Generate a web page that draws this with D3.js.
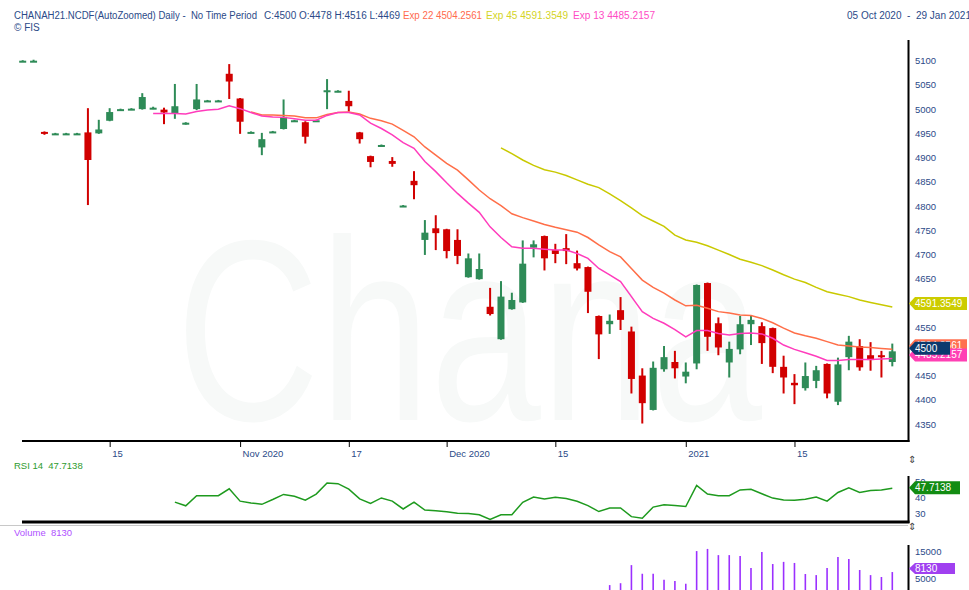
<!DOCTYPE html>
<html lang="en">
<head>
  <meta charset="UTF-8">
  <title>CHANAH21 Daily</title>
  <script src="https://d3js.org/d3.v7.min.js"></script>
</head>

<body>

  <div id="chart"></div>

  <style>
    body { margin: 0; background: #fff; }
    text { font-family: "Liberation Sans", Arial, sans-serif; }
  </style>

  <script type="text/javascript">

  var w = 969;
  var h = 590;

  // trading days 05 Oct 2020 - 29 Jan 2021
  var dates = [
    "2020-10-05","2020-10-06","2020-10-07","2020-10-08","2020-10-09","2020-10-12","2020-10-13","2020-10-14","2020-10-15","2020-10-16",
    "2020-10-19","2020-10-20","2020-10-21","2020-10-22","2020-10-23","2020-10-26","2020-10-27","2020-10-28","2020-10-29","2020-10-30",
    "2020-11-02","2020-11-03","2020-11-04","2020-11-05","2020-11-06","2020-11-09","2020-11-10","2020-11-11","2020-11-12","2020-11-13",
    "2020-11-17","2020-11-18","2020-11-19","2020-11-20","2020-11-23","2020-11-24","2020-11-25","2020-11-26","2020-11-27",
    "2020-12-01","2020-12-02","2020-12-03","2020-12-04","2020-12-07","2020-12-08","2020-12-09","2020-12-10","2020-12-11","2020-12-14",
    "2020-12-15","2020-12-16","2020-12-17","2020-12-18","2020-12-21","2020-12-22","2020-12-23","2020-12-24","2020-12-28","2020-12-29",
    "2020-12-30","2020-12-31",
    "2021-01-01","2021-01-04","2021-01-05","2021-01-06","2021-01-07","2021-01-08","2021-01-11","2021-01-12","2021-01-13","2021-01-14",
    "2021-01-15","2021-01-18","2021-01-19","2021-01-20","2021-01-21","2021-01-22","2021-01-25","2021-01-27","2021-01-28","2021-01-29"
  ];

  var open = [5099,5099,4953,4949,4949,4949,4952,4950,4976,4998,
              4999,5000,5001,4999,4991,4970,5000,5016,5016,5073,
              5022,4951,4921,4952,4959,4975,4973,4975,5037,5036,
              5017,4952,4903,4924,4893,4799,4852,4730,4754,4752,
              4730,4653,4649,4592,4525,4587,4601,4714,4738,4709,
              4713,4682,4674,4573,4556,4585,4541,4450,4379,4463,
              4478,4448,4475,4641,4558,4477,4504,4556,4552,4548,
              4468,4435,4424,4439,4474,4396,4488,4511,4492,4492,4478];
  var high = [5101,5102,4954,4951,4951,4951,5002,4978,5002,5001,
              5002,5033,5005,5003,5052,4973,5052,5019,5019,5093,
              5023,4954,4951,4955,5020,4978,4975,4978,5062,5039,
              5038,4953,4904,4927,4901,4802,4872,4771,4781,4753,
              4752,4702,4702,4631,4645,4621,4729,4729,4739,4722,
              4742,4708,4675,4574,4576,4612,4551,4465,4479,4511,
              4501,4477,4638,4642,4570,4520,4573,4573,4560,4549,
              4491,4453,4477,4470,4475,4487,4532,4525,4519,4501,4516];
  var low  = [5099,5098,4947,4948,4948,4948,4802,4949,4975,4997,
              4998,4999,5000,4969,4980,4968,4998,5015,5015,5021,
              4949,4950,4905,4951,4958,4974,4929,4974,5000,5035,
              4995,4929,4880,4923,4881,4798,4814,4699,4709,4692,
              4680,4652,4648,4574,4524,4586,4600,4694,4667,4682,
              4680,4667,4579,4484,4536,4544,4413,4351,4378,4458,
              4444,4434,4463,4501,4492,4446,4494,4513,4474,4455,
              4413,4391,4419,4424,4403,4389,4461,4460,4460,4446,4469];
  var close = [5100,5100,4950,4950,4950,4950,4895,4958,4994,5000,
               5001,5025,5003,4993,5006,4972,5020,5018,5018,5057,
               4974,4953,4938,4954,4984,4977,4943,4977,5039,5038,
               5006,4938,4891,4926,4887,4801,4843,4745,4744,4707,
               4697,4692,4670,4577,4613,4606,4681,4721,4692,4701,
               4707,4671,4623,4535,4563,4565,4443,4393,4466,4488,
               4465,4458,4637,4530,4508,4505,4556,4565,4517,4468,
               4446,4430,4449,4461,4413,4473,4520,4467,4482,4488,4500];

  // moving averages, first value at the given bar
  var ema13Start = 12;
  var ema13 = [4991,4991,4991,4990,4995,4998,5000,5007,5001,4993,
               4986,4984,4983,4980,4977,4977,4987,4993,4993,4988,
               4971,4960,4947,4931,4919,4892,4871,4848,4826,4806,
               4787,4757,4735,4716,4713,4713,4711,4709,4709,4702,
               4692,4671,4658,4644,4613,4582,4568,4558,4545,4530,
               4543,4543,4537,4534,4537,4538,4536,4527,4513,4504,
               4497,4490,4481,4481,4483,4483,4483,4484,4485.22];
  var ema22Start = 21;
  var ema22 = [4994,4988,4988,4987,4986,4982,4982,4989,4993,4994,
               4990,4981,4976,4969,4956,4943,4922,4905,4888,4874,
               4854,4833,4815,4801,4784,4776,4769,4762,4756,4751,
               4746,4735,4720,4706,4695,4671,4647,4632,4620,4606,
               4594,4595,4589,4582,4579,4575,4574,4568,4559,4548,
               4538,4532,4527,4520,4513,4511,4509,4508,4506,4504.26];
  var ema45Start = 44;
  var ema45 = [4920,4908,4895,4884,4875,4870,4863,4854,4845,4838,
               4825,4811,4796,4780,4769,4758,4740,4730,4725,4718,
               4709,4700,4690,4684,4677,4668,4658,4649,4642,4632,
               4623,4618,4613,4606,4601,4596,4591.35];

  var rsiStart = 14;
  var rsi = [39.0,36.7,43.0,43.0,43.0,47.3,39.6,38.5,37.6,40.6,
             43.8,42.6,40.2,44.0,50.9,50.5,47.1,41.0,38.2,41.6,
             39.6,34.7,39.0,34.0,33.6,33.0,32.0,31.9,31.1,28.1,
             31.1,31.1,38.9,42.2,41.0,42.0,41.2,39.5,36.8,33.1,
             35.3,35.3,29.9,28.9,35.9,37.4,36.8,36.2,49.5,44.0,
             43.0,43.0,46.6,47.0,44.2,41.5,40.3,40.2,40.8,42.2,
             39.6,45.0,47.9,45.0,46.2,46.6,47.71];

  var volume = [0,0,0,0,0,0,100,0,0,0,
                0,0,0,100,0,0,0,0,0,0,
                0,0,100,0,0,0,0,0,0,0,
                0,0,0,0,0,0,0,0,0,300,
                0,0,0,400,0,300,250,250,300,0,
                0,400,500,900,3300,4000,10700,7500,7500,5300,
                4800,3800,15900,16700,14400,14400,14100,9600,15600,11100,
                11900,11500,7400,7000,9600,13700,13000,8900,7000,6300,
                8130];

  var dateTicks = ["2020-10-15","2020-11-02","2020-11-17","2020-12-01","2020-12-15","2021-01-01","2021-01-15"];
  var dateLabels = ["15","Nov 2020","17","Dec 2020","15","2021","15"];
  var priceTicks = [4350,4400,4450,4500,4550,4600,4650,4700,4750,4800,4850,4900,4950,5000,5050,5100];
  var rsiTicks = [30, 40, 50];
  var volTicks = [0, 5000, 10000, 15000];

  var navy = "#2b4a88";
  var up = "#2e8b57", down = "#d10000";

  var svg = d3.select('#chart')
    .append('svg')
    .attr('width', w)
    .attr('height', h);

  var x = d3.scalePoint().domain(dates).range([22.7, 892.3]);
  var yP = d3.scaleLinear().domain([4350, 5100]).range([424, 60.7]);
  var yR = d3.scaleLinear().domain([30, 50]).range([516.5, 484.5]);
  var yV = d3.scaleLinear().domain([0, 15000]).range([594, 553.5]);

  // watermark
  svg.append("text")
    .attr("x", 176).attr("y", 420)
    .attr("font-size", 258)
    .attr("textLength", 586).attr("lengthAdjust", "spacingAndGlyphs")
    .attr("fill", "#f7f9f8")
    .text("Chana");

  // header
  var head = [
    {x: 14, len: 243, c: navy, t: "CHANAH21.NCDF(AutoZoomed) Daily -  No Time Period"},
    {x: 264, len: 136, c: navy, t: "C:4500 O:4478 H:4516 L:4469"},
    {x: 403, len: 79, c: "#ff6a4d", t: "Exp 22 4504.2561"},
    {x: 486, len: 82, c: "#d4d426", t: "Exp 45 4591.3549"},
    {x: 573, len: 82, c: "#ff4cc4", t: "Exp 13 4485.2157"}
  ];
  svg.selectAll("text.head").data(head).enter().append("text")
    .attr("class", "head")
    .attr("x", d => d.x).attr("y", 18.5)
    .attr("font-size", 10)
    .attr("textLength", d => d.len).attr("lengthAdjust", "spacingAndGlyphs")
    .attr("fill", d => d.c)
    .style("white-space", "pre")
    .text(d => d.t);
  svg.append("text").attr("x", 847).attr("y", 18.5).attr("font-size", 10)
    .attr("fill", navy).style("white-space", "pre").text("05 Oct 2020  -  29 Jan 2021");
  svg.append("text").attr("x", 14).attr("y", 30.5).attr("font-size", 10)
    .attr("fill", navy).text("\u00a9 FIS");

  // candles
  var idx = d3.range(dates.length);
  var candles = svg.append("g");
  candles.selectAll("line").data(idx).enter().append("line")
    .attr("x1", i => x(dates[i])).attr("x2", i => x(dates[i]))
    .attr("y1", i => yP(high[i])).attr("y2", i => yP(low[i]))
    .attr("stroke", i => close[i] >= open[i] ? up : down)
    .attr("stroke-width", 2);
  candles.selectAll("rect").data(idx).enter().append("rect")
    .attr("x", i => x(dates[i]) - 3.5)
    .attr("width", 7)
    .attr("y", i => yP(Math.max(open[i], close[i])))
    .attr("height", i => Math.max(2, Math.abs(yP(open[i]) - yP(close[i]))))
    .attr("fill", i => close[i] >= open[i] ? up : down);

  // moving averages
  function drawLine(vals, start, scale, color, width) {
    var line = d3.line()
      .x((d, j) => x(dates[start + j]))
      .y(d => scale(d));
    svg.append("path")
      .datum(vals)
      .attr("d", line)
      .attr("fill", "none")
      .attr("stroke", color)
      .attr("stroke-width", width);
  }
  drawLine(ema45, ema45Start, yP, "#c9c900", 1.5);
  drawLine(ema22, ema22Start, yP, "#ff6e48", 1.5);
  drawLine(ema13, ema13Start, yP, "#ff3cbc", 1.5);

  // price axis
  var axP = svg.append("g")
    .attr("transform", "translate(909,0)")
    .call(d3.axisRight(yP).tickValues(priceTicks).tickSize(0).tickPadding(6).tickFormat(d3.format("d")));
  axP.select(".domain").remove();
  axP.selectAll("text").attr("fill", navy).attr("font-size", 9.5)
    .attr("font-family", "Liberation Sans, Arial, sans-serif");

  // date axis
  var axX = svg.append("g")
    .attr("transform", "translate(0,441)")
    .call(d3.axisBottom(x).tickValues(dateTicks).tickSize(6)
      .tickFormat((d, i) => dateLabels[i]));
  axX.select(".domain").remove();
  axX.selectAll("line").attr("stroke", "#000");
  axX.selectAll("text").attr("fill", navy).attr("font-size", 9.5)
    .attr("text-anchor", "start").attr("dx", 2)
    .attr("font-family", "Liberation Sans, Arial, sans-serif");

  // frame lines
  svg.append("line").attr("x1", 908.5).attr("x2", 908.5).attr("y1", 40).attr("y2", 442)
    .attr("stroke", "#000").attr("stroke-width", 2);
  svg.append("line").attr("x1", 22).attr("x2", 909.5).attr("y1", 441).attr("y2", 441)
    .attr("stroke", "#000").attr("stroke-width", 2);

  // value tags on the right
  function tag(y, wd, fill, label, half) {
    var hh = half || 6.5;
    var g = svg.append("g");
    g.append("path")
      .attr("d", "M909," + y + "L915," + (y - hh) + "L" + (909 + wd) + "," + (y - hh) +
        "L" + (909 + wd) + "," + (y + hh) + "L915," + (y + hh) + "Z")
      .attr("fill", fill);
    g.append("text").attr("x", 915).attr("y", y + 3.5)
      .attr("font-size", 10).attr("fill", "#fff").text(label);
  }
  tag(yP(4591.35) - 3.5, 58, "#cccc00", "4591.3549");
  tag(yP(4504.26) - 3.5, 58, "#ff7050", "4504.2561");
  tag(yP(4485.22) - 3.5, 58, "#ff40b4", "4485.2157");
  tag(yP(4500) - 3, 41, "#0b3a6e", "4500");

  // RSI panel
  svg.append("text").attr("x", 14).attr("y", 468.5).attr("font-size", 9.5)
    .attr("fill", "#2e9b2e").style("white-space", "pre").text("RSI 14  47.7138");
  drawLine(rsi, rsiStart, yR, "#1e9a1e", 1.5);
  var axR = svg.append("g")
    .attr("transform", "translate(909,0)")
    .call(d3.axisRight(yR).tickValues(rsiTicks).tickSize(0).tickPadding(6));
  axR.select(".domain").remove();
  axR.selectAll("text").attr("fill", navy).attr("font-size", 9.5).attr("y", -3.5)
    .attr("font-family", "Liberation Sans, Arial, sans-serif");
  svg.append("line").attr("x1", 908.5).attr("x2", 908.5).attr("y1", 476).attr("y2", 523)
    .attr("stroke", "#000").attr("stroke-width", 2);
  svg.append("line").attr("x1", 22).attr("x2", 909.5).attr("y1", 522).attr("y2", 522)
    .attr("stroke", "#000").attr("stroke-width", 3);
  tag(yR(47.71) - 0.5, 51, "#128c12", "47.7138");

  // volume panel
  svg.append("line").attr("x1", 0).attr("x2", 908).attr("y1", 525.5).attr("y2", 525.5)
    .attr("stroke", "#c8c8c8").attr("stroke-width", 1);
  svg.append("text").attr("x", 14).attr("y", 535.5).attr("font-size", 9.5)
    .attr("fill", "#b050ff").style("white-space", "pre").text("Volume  8130");
  svg.selectAll("line.vol").data(idx.filter(i => volume[i] > 0)).enter().append("line")
    .attr("class", "vol")
    .attr("x1", i => x(dates[i])).attr("x2", i => x(dates[i]))
    .attr("y1", i => yV(volume[i])).attr("y2", yV(0))
    .attr("stroke", "#9b30ff").attr("stroke-width", 1.6);
  var axV = svg.append("g")
    .attr("transform", "translate(909,0)")
    .call(d3.axisRight(yV).tickValues(volTicks).tickSize(0).tickPadding(6).tickFormat(d3.format("d")));
  axV.select(".domain").remove();
  axV.selectAll("text").attr("fill", navy).attr("font-size", 9.5).attr("y", -2)
    .attr("font-family", "Liberation Sans, Arial, sans-serif");
  svg.append("line").attr("x1", 908.5).attr("x2", 908.5).attr("y1", 545).attr("y2", 590)
    .attr("stroke", "#000").attr("stroke-width", 2);
  tag(yV(8130) - 3.5, 46, "#a040f0", "8130", 5.5);

  // panel resize markers
  svg.selectAll("text.grip").data([459, 526]).enter().append("text")
    .attr("class", "grip")
    .attr("x", 912).attr("y", d => d + 4)
    .attr("font-size", 10).attr("text-anchor", "middle")
    .attr("font-family", "DejaVu Sans")
    .attr("fill", "#444").text("\u21d5");

    </script>
</body>
</html>
